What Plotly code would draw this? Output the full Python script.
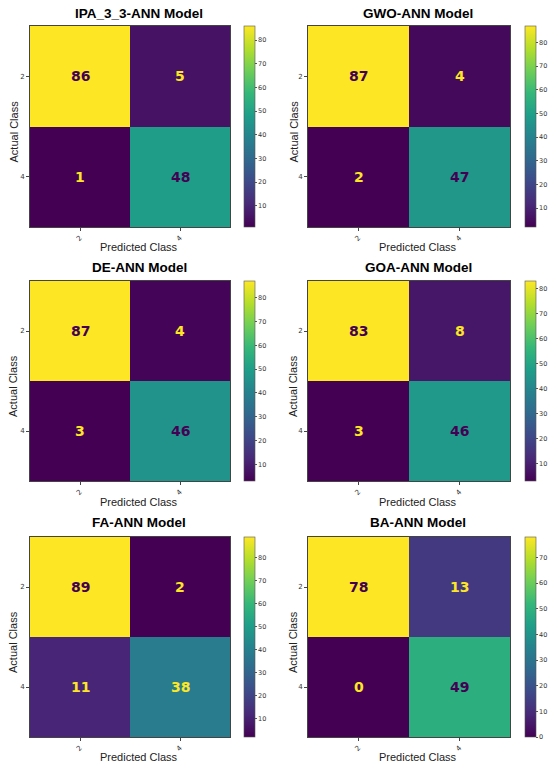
import plotly.graph_objects as go

# confusion matrices, rows = actual (2, 4), cols = predicted (2, 4)
class_labels = ["2", "4"]
model_names = ["IPA_3_3-ANN", "GWO-ANN", "DE-ANN", "GOA-ANN", "FA-ANN", "BA-ANN"]
ipa_cm = [[86, 5], [1, 48]]
gwo_cm = [[87, 4], [2, 47]]
de_cm = [[87, 4], [3, 46]]
goa_cm = [[83, 8], [3, 46]]
fa_cm = [[89, 2], [11, 38]]
ba_cm = [[78, 13], [0, 49]]
matrices = [ipa_cm, gwo_cm, de_cm, goa_cm, fa_cm, ba_cm]

W, H = 550, 766
DARK = "#440154"
LIGHT = "#fde725"

# pixel boxes of each heatmap (left, right) and (top, bottom)
col_px = [(30, 230), (308, 510)]
row_px = [(26, 227), (281, 481), (537, 737)]
cbar_left = [244, 525]
text_cx = [139, 418]
ylab_x = [13, 293]
title_y = [13, 267, 522]
xlab_y = [247, 502, 757]

fig = go.Figure()

for i, (name, cm) in enumerate(zip(model_names, matrices)):
    r, c = divmod(i, 2)
    n = i + 1
    xa = "x" if n == 1 else f"x{n}"
    ya = "y" if n == 1 else f"y{n}"
    flat = [v for row in cm for v in row]
    zmin, zmax = min(flat), max(flat)
    top, bot = row_px[r]

    fig.add_trace(go.Heatmap(
        z=cm, x=class_labels, y=class_labels,
        xaxis=xa, yaxis=ya,
        colorscale="Viridis", zmin=zmin, zmax=zmax,
        hoverinfo="skip",
        colorbar=dict(
            x=cbar_left[c] / W, xanchor="left",
            y=1 - (top + bot) / 2 / H, yanchor="middle",
            len=bot - top, lenmode="pixels",
            thickness=11, thicknessmode="pixels",
            outlinewidth=0.6, outlinecolor="#555",
            tick0=0, dtick=10, ticks="outside", ticklen=2,
            tickcolor="#555", xpad=0, ypad=0,
            tickfont=dict(family="DejaVu Sans", size=6.5, color="#333"),
        ),
    ))

    lx, rx = col_px[c]
    axis_common = dict(type="category", showline=True, mirror=True,
                       linecolor="#444", linewidth=0.8,
                       ticks="outside", ticklen=3, tickcolor="#444",
                       tickfont=dict(family="DejaVu Sans", size=7, color="#333"),
                       showgrid=False, zeroline=False, fixedrange=True)
    fig.layout[xa.replace("x", "xaxis")] = dict(
        domain=[lx / W, rx / W], anchor=ya, tickangle=-45, **axis_common)
    fig.layout[ya.replace("y", "yaxis")] = dict(
        domain=[1 - bot / H, 1 - top / H], anchor=xa, autorange="reversed", **axis_common)

    # cell counts (category index positions on each axis)
    thresh = (zmin + zmax) / 2
    for a in range(len(class_labels)):
        for p in range(len(class_labels)):
            v = cm[a][p]
            fig.add_annotation(
                x=p, y=a, xref=xa, yref=ya, text=f"<b>{v}</b>",
                showarrow=False,
                font=dict(family="DejaVu Sans", size=14, color=DARK if v > thresh else LIGHT),
            )

    fig.add_annotation(
        x=text_cx[c] / W, y=1 - title_y[r] / H, xref="paper", yref="paper",
        text=f"<b>{name} Model</b>", showarrow=False,
        xanchor="center", yanchor="middle",
        font=dict(family="Liberation Sans", size=13.5, color="black"),
    )
    fig.add_annotation(
        x=text_cx[c] / W, y=1 - xlab_y[r] / H, xref="paper", yref="paper",
        text="Predicted Class", showarrow=False,
        xanchor="center", yanchor="middle",
        font=dict(family="Liberation Sans", size=11, color="#222"),
    )
    fig.add_annotation(
        x=ylab_x[c] / W, y=1 - ((top + bot) / 2 + 5) / H, xref="paper", yref="paper",
        text="Actual Class", showarrow=False, textangle=-90,
        xanchor="center", yanchor="middle",
        font=dict(family="Liberation Sans", size=11, color="#222"),
    )

fig.update_layout(
    width=W, height=H,
    margin=dict(l=0, r=0, t=0, b=0),
    paper_bgcolor="white", plot_bgcolor="white",
    showlegend=False,
)

# drop the browser's default 8px body margin so the figure fills the window
fig.write_html("out.html", config={"displayModeBar": False},
               post_script="document.body.style.margin='0';")
